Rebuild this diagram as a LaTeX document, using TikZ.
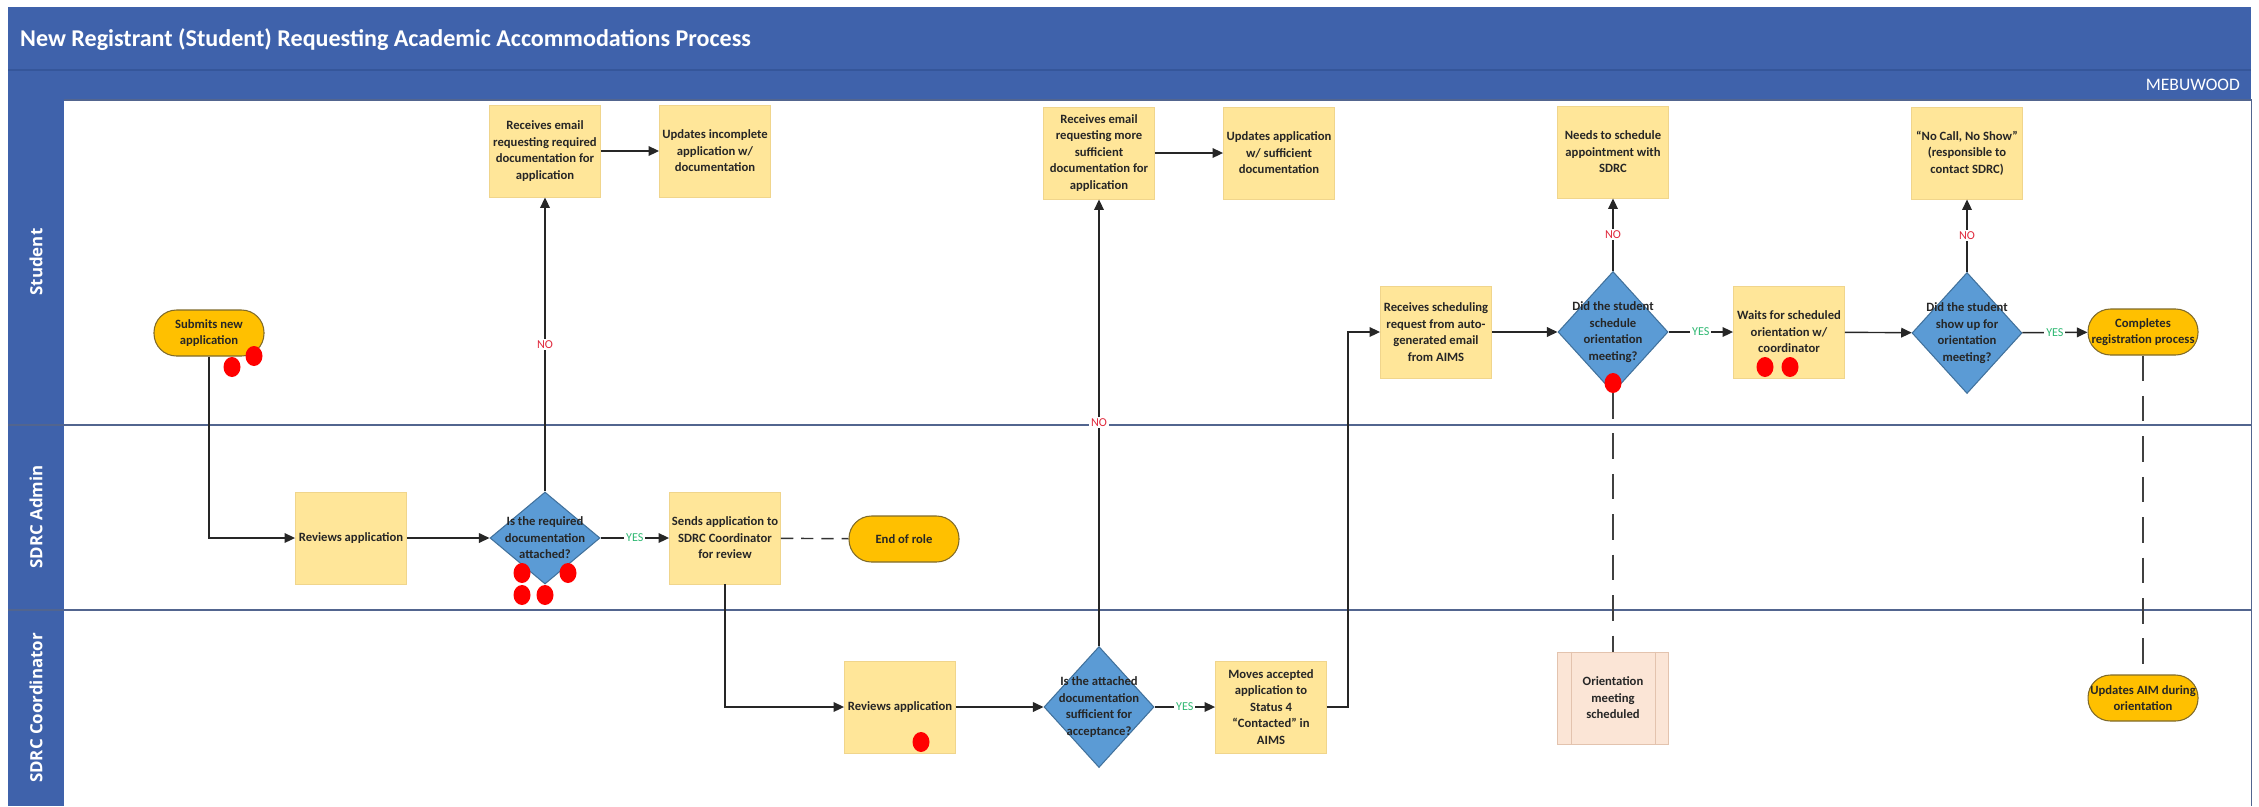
\documentclass[tikz,border=0pt]{standalone}
\usepackage{fontspec}
\setmainfont{Carlito}
\newfontfamily\lanefont{Open Sans}
\usetikzlibrary{shapes.geometric}
\usetikzlibrary{arrows.meta}

\definecolor{barblue}{HTML}{3F62AB}
\definecolor{barline}{HTML}{35569A}
\definecolor{laneline}{HTML}{52658F}
\definecolor{taskfill}{HTML}{FFE699}
\definecolor{taskedge}{HTML}{F0D58C}
\definecolor{termfill}{HTML}{FFC000}
\definecolor{termedge}{HTML}{7F6A2A}
\definecolor{decfill}{HTML}{5B9BD5}
\definecolor{decedge}{HTML}{41719C}
\definecolor{subfill}{HTML}{FBE5D6}
\definecolor{subedge}{HTML}{E3C3AE}
\definecolor{yesgreen}{HTML}{2EB872}
\definecolor{nored}{HTML}{E0283C}
\definecolor{dotred}{HTML}{FF0000}

\tikzset{
  task/.style={rectangle, fill=taskfill, draw=taskedge, line width=0.5pt,
    minimum width=2.22cm, minimum height=1.84cm, inner sep=1pt, align=center,
    font=\fontsize{7.2}{9.4}\selectfont\bfseries, text=black!85},
  sub/.style={task, fill=subfill, draw=subedge},
  term/.style={rectangle, rounded corners=0.45cm, fill=termfill, draw=termedge,
    line width=0.6pt, minimum width=2.2cm, minimum height=0.92cm, inner sep=1pt,
    align=center, font=\fontsize{7.2}{9.4}\selectfont\bfseries, text=black!85},
  dec/.style={diamond, fill=decfill, draw=decedge, line width=0.6pt, inner sep=0pt,
    minimum width=2.2cm, minimum height=2.42cm},
  dectext/.style={align=center, inner sep=0pt, text=black!85,
    font=\fontsize{7.2}{9.4}\selectfont\bfseries},
  flow/.style={draw=black!85, line width=0.8pt, -{Triangle[length=6pt,width=5.5pt]}},
  tie/.style={draw=black!80, line width=0.8pt, dash pattern=on 7pt off 4.5pt},
  longtie/.style={draw=black!75, line width=0.9pt, dash pattern=on 14.5pt off 8.5pt},
  yes/.style={fill=white, text=yesgreen, inner sep=1pt, font=\fontsize{6.9}{8}\selectfont},
  no/.style={fill=white, text=nored, inner sep=1pt, font=\fontsize{6.9}{8}\selectfont},
  lane/.style={rotate=90, text=white, font=\lanefont\fontsize{9.6}{11}\selectfont\bfseries},
}

\begin{document}
\begin{tikzpicture}[x=0.2mm, y=-0.2mm]
  \useasboundingbox (0,0) rectangle (2259,806);

  % Title bar and lane headers
  \fill[barblue] (8,7) rectangle (2251,100);
  \draw[barline, line width=0.8pt] (8,70) -- (2251,70);
  \fill[barblue] (8,100) rectangle (64,806);
  \node[anchor=west, text=white, font=\fontsize{13.7}{16}\selectfont\bfseries] (title) at (14,40)
    {New Registrant (Student) Requesting Academic Accommodations Process};
  \node[anchor=east, text=white, font=\fontsize{10}{12}\selectfont] (owner) at (2246,85) {MEBUWOOD};

  % Lanes
  \draw[laneline, line width=0.6pt] (64,100) -- (2251,100) -- (2251,806);
  \draw[laneline, line width=1pt] (8,425) -- (2251,425);
  \draw[laneline, line width=1pt] (8,610) -- (2251,610);
  \node[lane] (student) at (36,262) {Student};
  \node[lane] (admin) at (36,517) {SDRC Admin};
  \node[lane] (coord) at (36,708) {SDRC Coordinator};

  % Student
  \node[term] (submit) at (209,333) {Submits new\\application};
  \node[task] (recv1) at (545,151) {Receives email\\requesting required\\documentation for\\application};
  \node[task] (upd1) at (715,151) {Updates incomplete\\application w/\\documentation};
  \node[task] (recv2) at (1099,153) {Receives email\\requesting more\\sufficient\\documentation for\\application};
  \node[task] (upd2) at (1279,153) {Updates application\\w/ sufficient\\documentation};
  \node[task] (recv3) at (1436,332) {Receives scheduling\\request from auto-\\generated email\\from AIMS};
  \node[dec] (dec3) at (1613,332) {};
  \node[dectext] at (dec3) {Did the student\\schedule\\orientation\\meeting?};
  \node[task] (need) at (1613,152) {Needs to schedule\\appointment with\\SDRC};
  \node[task] (wait) at (1789,332) {Waits for scheduled\\orientation w/\\coordinator};
  \node[dec] (dec4) at (1967,333) {};
  \node[dectext] at (dec4) {Did the student\\show up for\\orientation\\meeting?};
  \node[task] (noshow) at (1967,153) {``No Call, No Show''\\(responsible to\\contact SDRC)};
  \node[term] (complete) at (2143,332) {Completes\\registration process};

  % SDRC Admin
  \node[task] (rev1) at (351,538) {Reviews application};
  \node[dec, minimum height=1.84cm] (dec1) at (545,538) {};
  \node[dectext] at (dec1) {Is the required\\documentation\\attached?};
  \node[task] (send) at (725,538) {Sends application to\\SDRC Coordinator\\for review};
  \node[term] (endrole) at (904,539) {End of role};

  % SDRC Coordinator
  \node[task] (rev2) at (900,707) {Reviews application};
  \node[dec] (dec2) at (1099,707) {};
  \node[dectext] at (dec2) {Is the attached\\documentation\\sufficient for\\acceptance?};
  \node[task] (move) at (1271,707) {Moves accepted\\application to\\Status 4\\``Contacted'' in\\AIMS};
  \node[sub] (orient) at (1613,698) {Orientation\\meeting\\scheduled};
  \draw[subedge, line width=0.5pt] ([xshift=0.28cm]orient.north west) -- ([xshift=0.28cm]orient.south west);
  \draw[subedge, line width=0.5pt] ([xshift=-0.28cm]orient.north east) -- ([xshift=-0.28cm]orient.south east);
  \node[term] (update) at (2143,698) {Updates AIM during\\orientation};

  % Connectors
  \draw[flow] (submit.south) |- (rev1.west);
  \draw[flow] (rev1) -- (dec1);
  \draw[flow] (dec1.north) -- node[no] {NO} (recv1.south);
  \draw[flow] (recv1) -- (upd1);
  \draw[flow] (dec1) -- node[yes] {YES} (send);
  \draw[tie] (send) -- (endrole);
  \draw[flow] (send.south) |- (rev2.west);
  \draw[flow] (rev2) -- (dec2);
  \draw[flow] (dec2.north) -- node[no] {NO} (recv2.south);
  \draw[flow] (recv2) -- (upd2);
  \draw[flow] (dec2) -- node[yes] {YES} (move);
  \draw[flow] (move.east) -- ++(21,0) |- (recv3.west);
  \draw[flow] (recv3) -- (dec3);
  \draw[flow] (dec3.north) -- node[no] {NO} (need.south);
  \draw[flow] (dec3) -- node[yes] {YES} (wait);
  \draw[flow] (wait) -- (dec4);
  \draw[flow] (dec4.north) -- node[no] {NO} (noshow.south);
  \draw[flow] (dec4) -- node[yes] {YES} (complete);
  \draw[longtie] (dec3.south) -- (orient.north);
  \draw[longtie] (complete.south) -- (update.north);

  % Red markers
  \foreach \p in {(232,367), (254,356), (522,573), (568,573), (522,595), (545,595),
                  (921,742), (1613,383), (1765,367), (1790,367)} {
    \fill[dotred] \p ellipse (0.17cm and 0.2cm);
  }
\end{tikzpicture}
\end{document}
